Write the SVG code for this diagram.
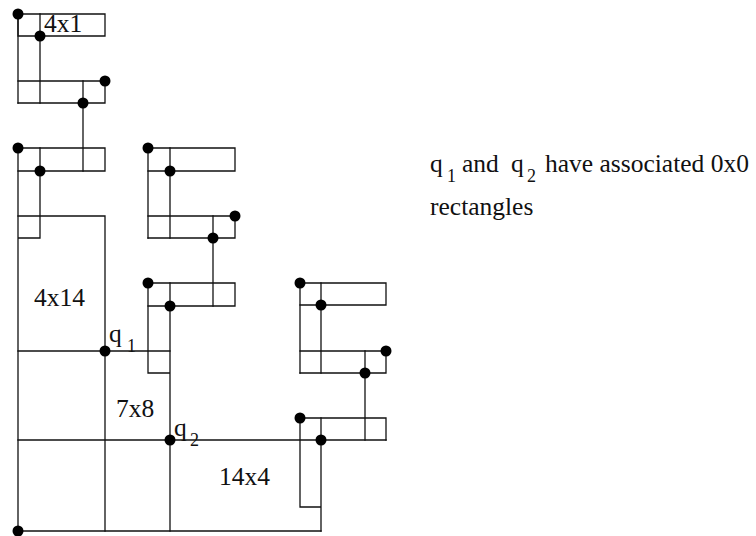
<svg xmlns="http://www.w3.org/2000/svg" width="756" height="536" viewBox="0 0 756 536">
<style>
.l{stroke:#111;stroke-width:1.3;fill:none;stroke-linecap:square}
.d{fill:#000}
.t{font-family:"Liberation Serif","Times New Roman",serif;font-size:25.5px;fill:#111}
.s{font-family:"Liberation Serif","Times New Roman",serif;font-size:18px;fill:#111}
</style>
<rect width="756" height="536" fill="#fff"/>
<g id="connectors" class="l">
<path d="M18,14H105V36H18Z"/>
<path d="M18,14V103M40,14V103"/>
<path d="M18,81H105V103H18"/>
<path d="M83,81V171"/>
<path d="M18,148H105V171H18"/>
<path d="M18,148V531M40,148V238H18"/>
<path d="M18,216H105V531"/>
<path d="M18,351H170"/>
<path d="M18,440H386"/>
<path d="M18,531H321"/>
<path d="M148,148H235V171H148"/>
<path d="M148,148V238M170,148V238"/>
<path d="M148,216H235V238H148"/>
<path d="M213,216V306"/>
<path d="M148,283H235V306H148"/>
<path d="M148,283V373H170M170,283V531"/>
<path d="M300,283H386V305H300"/>
<path d="M300,283V373M321,283V373"/>
<path d="M300,351H386V373H300"/>
<path d="M365,351V440"/>
<path d="M300,418H386V440"/>
<path d="M300,418V507H321M321,418V531"/>
</g>
<g id="dots" class="d">
<circle cx="18" cy="14" r="5.5"/>
<circle cx="40" cy="36" r="5.5"/>
<circle cx="105" cy="81" r="5.5"/>
<circle cx="83" cy="103" r="5.5"/>
<circle cx="18" cy="148" r="5.5"/>
<circle cx="40" cy="171" r="5.5"/>
<circle cx="148" cy="148" r="5.5"/>
<circle cx="170" cy="171" r="5.5"/>
<circle cx="235" cy="216" r="5.5"/>
<circle cx="213" cy="238" r="5.5"/>
<circle cx="148" cy="283" r="5.5"/>
<circle cx="170" cy="306" r="5.5"/>
<circle cx="300" cy="283" r="5.5"/>
<circle cx="321" cy="305" r="5.5"/>
<circle cx="386" cy="351" r="5.5"/>
<circle cx="365" cy="373" r="5.5"/>
<circle cx="300" cy="418" r="5.5"/>
<circle cx="321" cy="440" r="5.5"/>
<circle cx="105" cy="351" r="5.5"/>
<circle cx="170" cy="440" r="5.5"/>
<circle cx="18" cy="531" r="5.5"/>
</g>
<g id="rect-4x1"><text class="t" x="44" y="32">4x1</text></g>
<g id="rect-4x14"><text class="t" x="34" y="306">4x14</text></g>
<g id="rect-7x8"><text class="t" x="116" y="417">7x8</text></g>
<g id="rect-14x4"><text class="t" x="219" y="485">14x4</text></g>
<g id="q1"><text class="t" x="109" y="342">q</text><text class="s" x="127" y="352">1</text></g>
<g id="q2"><text class="t" x="174" y="436">q</text><text class="s" x="190" y="446">2</text></g>
<g id="note">
<text class="t" x="430" y="172">q</text><text class="s" x="447" y="182">1</text>
<text class="t" x="462" y="172">and</text>
<text class="t" x="511" y="172">q</text><text class="s" x="527" y="182">2</text>
<text class="t" x="545" y="172">have associated 0x0</text>
<text class="t" x="430" y="215">rectangles</text>
</g>
</svg>
